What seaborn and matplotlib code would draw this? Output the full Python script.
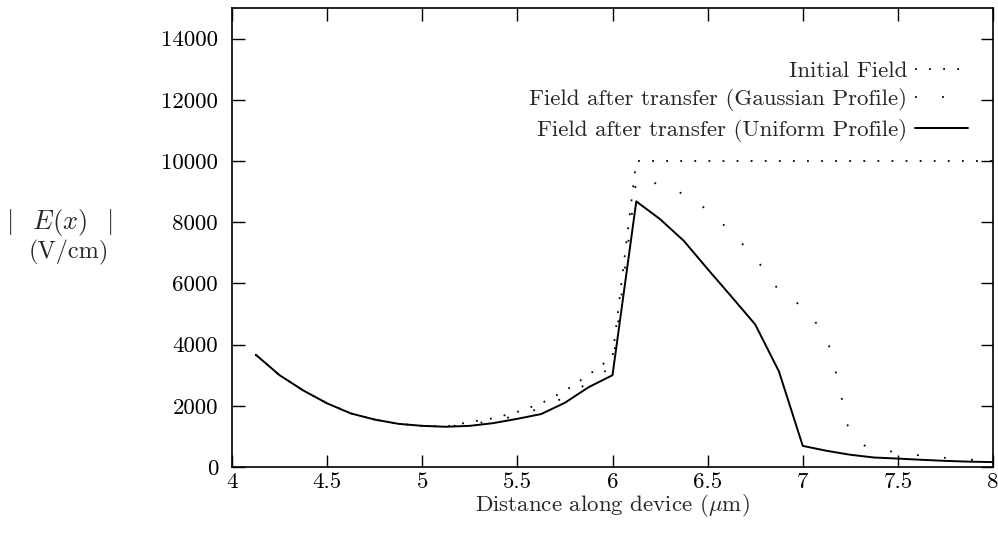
import matplotlib
matplotlib.use("Agg")
import matplotlib.pyplot as plt
import seaborn as sns
import pandas as pd

# ---- data ----
x_mesh = [4.125, 4.25, 4.375, 4.5, 4.625, 4.75, 4.875, 5.0, 5.125, 5.25,
          5.375, 5.5, 5.625, 5.75, 5.875, 6.0, 6.125, 6.25, 6.375, 6.5,
          6.625, 6.75, 6.875, 7.0, 7.125, 7.25, 7.375, 7.5, 7.625, 7.75,
          7.875, 8.0]

uniform_field = [3670, 3000, 2500, 2080, 1750, 1550, 1410, 1345, 1315, 1345,
                 1435, 1575, 1730, 2100, 2610, 3000, 8680, 8100, 7390, 6470,
                 5570, 4660, 3120, 690, 530, 400, 310, 275, 235, 200,
                 175, 160]

initial_field = [3670, 3000, 2500, 2080, 1750, 1550, 1410, 1345, 1320, 1470,
                 1595, 1800, 2080, 2490, 3010, 3600, 10000, 10000, 10000, 10000,
                 10000, 10000, 10000, 10000, 10000, 10000, 10000, 10000, 10000, 10000,
                 10000, 10000]

gauss_x = [4.125, 4.25, 4.375, 4.5, 4.625, 4.75, 4.875, 5.0, 5.125, 5.25,
           5.375, 5.5, 5.625, 5.75, 5.875, 6.0, 6.125, 6.255, 6.385, 6.501,
           6.605, 6.703, 6.791, 6.874, 6.992, 7.083, 7.146, 7.177, 7.207, 7.238,
           7.314, 7.451, 7.594, 7.736, 7.878, 8.0]
gauss_field = [3670, 3000, 2500, 2080, 1750, 1550, 1410, 1345, 1318, 1400,
               1510, 1680, 1930, 2280, 2760, 3300, 9400, 9236, 8885, 8393,
               7793, 7157, 6502, 5770, 5268, 4613, 3858, 3006, 2180, 1305,
               716, 519, 393, 305, 240, 200]

x_ticks = [4, 4.5, 5, 5.5, 6, 6.5, 7, 7.5, 8]
x_tick_labels = ["4", "4.5", "5", "5.5", "6", "6.5", "7", "7.5", "8"]
y_ticks = [0, 2000, 4000, 6000, 8000, 10000, 12000, 14000]

labels = ["Initial Field",
          "Field after transfer (Gaussian Profile)",
          "Field after transfer (Uniform Profile)"]

# ---- style ----
sns.set_style("ticks")
plt.rcParams["font.family"] = ["cmr10", "DejaVu Serif"]
plt.rcParams["mathtext.fontset"] = "cm"
plt.rcParams["axes.formatter.use_mathtext"] = True
FS = 16.5

fig = plt.figure(figsize=(9.98, 5.42), dpi=100)
ax = fig.add_axes([232 / 998, 1 - 467 / 542, (993 - 232) / 998, (467 - 8) / 542])

df_init = pd.DataFrame({"x": x_mesh, "E": initial_field})
df_gauss = pd.DataFrame({"x": gauss_x, "E": gauss_field})
df_unif = pd.DataFrame({"x": x_mesh, "E": uniform_field})

lw_dot = 1.3
sns.lineplot(data=df_init, x="x", y="E", ax=ax, color="black", lw=lw_dot,
             linestyle=(0, (1, 6.8)), label=labels[0], sort=False)
sns.lineplot(data=df_gauss, x="x", y="E", ax=ax, color="black", lw=lw_dot,
             linestyle=(0, (1, 14.0)), label=labels[1], sort=False)
sns.lineplot(data=df_unif, x="x", y="E", ax=ax, color="black", lw=1.4,
             linestyle="-", label=labels[2], sort=False)

ax.set_xlim(4, 8)
ax.set_ylim(0, 15000)
ax.set_xticks(x_ticks)
ax.set_xticklabels(x_tick_labels)
ax.set_yticks(y_ticks)
ax.set_yticklabels([str(v) for v in y_ticks])

ax.tick_params(direction="in", length=9, width=1.0, top=True, right=True,
               labelsize=FS, colors="black")
ax.tick_params(axis="x", pad=4)
ax.tick_params(axis="y", pad=10)
for s in ax.spines.values():
    s.set_linewidth(1.2)
    s.set_color("black")

ax.set_xlabel(r"Distance along device ($\mu$m)", fontsize=FS, labelpad=0)
ax.set_ylabel("")

fig.text(60 / 998, 1 - 222 / 542, r"$|\;\;\;E(x)\;\;\;|$", fontsize=19,
         ha="center", va="center")
fig.text(69 / 998, 1 - 252 / 542, "(V/cm)", fontsize=17.5,
         ha="center", va="center")

leg = ax.legend(loc="upper right", bbox_to_anchor=(968 / 998, 1 - 61 / 542),
                bbox_transform=fig.transFigure, frameon=False,
                markerfirst=False, fontsize=FS, handlelength=2.3,
                handletextpad=0.35, labelspacing=0.32, borderpad=0,
                borderaxespad=0)

fig.savefig("out.png", dpi=100)
